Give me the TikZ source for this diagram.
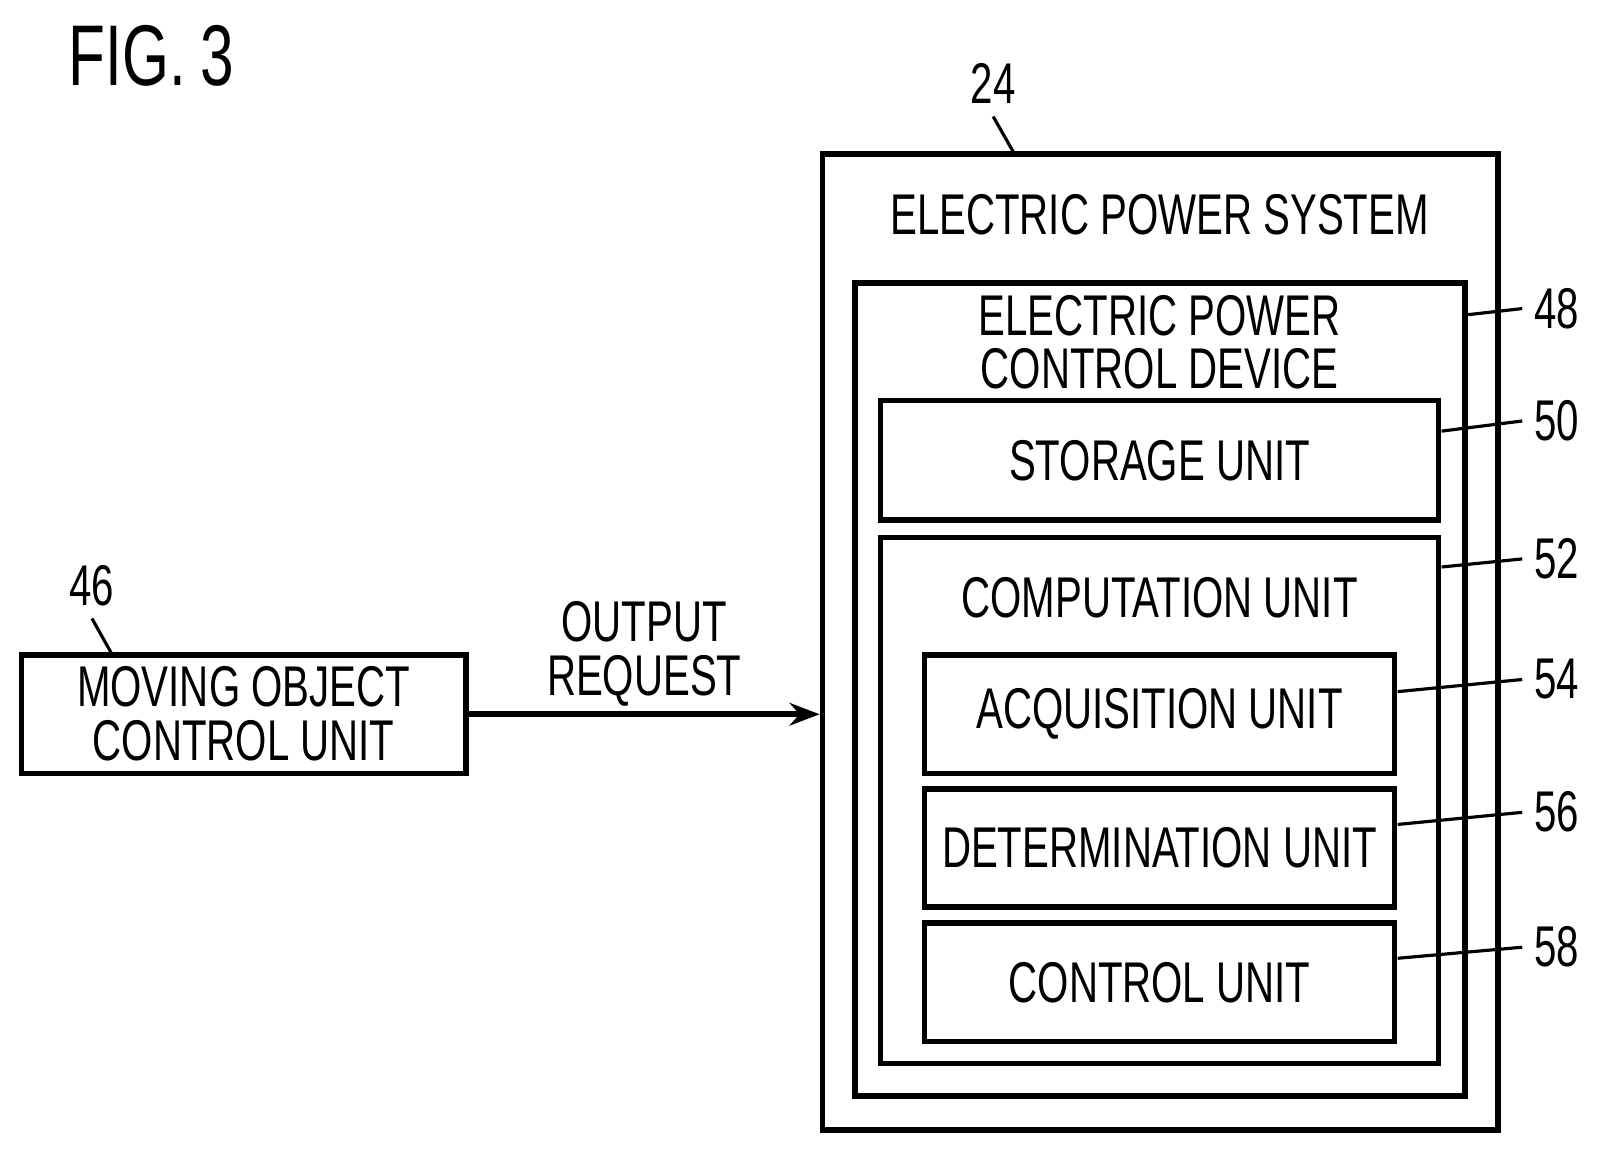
\documentclass[tikz,border=0pt]{standalone}
\usepackage{fontspec}
\setmainfont{Liberation Sans}[FakeStretch=0.7]
\usetikzlibrary{arrows.meta,positioning}

\begin{document}
\begin{tikzpicture}[
    box/.style={draw, line width=1.6pt, minimum height=1.16cm, align=center},
    txt/.style={font=\fontsize{16}{15}\selectfont, align=center},
    ref/.style={font=\fontsize{16}{15}\selectfont},
    lead/.style={line width=0.9pt},
    arrow/.style={-{Stealth[length=3mm]}, line width=1.6pt}
]
\useasboundingbox (0,0) rectangle (16.03,-11.52);
\begin{scope}[scale=1.0216, transform shape]
\node[font=\fontsize{24}{24}\selectfont] (fig) at (1.48,-0.55) {FIG.\,3};

% outer system and nested units
\node[box, minimum width=6.61cm, minimum height=9.55cm] (sys) at (11.355,-6.285) {};
\node[txt] (systxt) at (11.35,-2.1) {ELECTRIC POWER SYSTEM};
\node[box, minimum width=5.97cm, minimum height=7.96cm] (pcd) at (11.355,-6.75) {};
\node[txt] (pcdtxt) at (11.35,-3.35) {ELECTRIC POWER\\CONTROL DEVICE};
\node[box, minimum width=5.46cm, minimum height=1.17cm, txt] (stor) at (11.35,-4.505) {STORAGE UNIT};
\node[box, minimum width=5.46cm, minimum height=5.15cm] (comp) at (11.35,-7.835) {};
\node[txt] (comptxt) at (11.35,-5.85) {COMPUTATION UNIT};
\node[box, minimum width=4.6cm, txt] (acq) at (11.35,-6.99) {ACQUISITION UNIT};
\node[box, minimum width=4.6cm, txt] (det) at (11.35,-8.30) {DETERMINATION UNIT};
\node[box, minimum width=4.6cm, txt] (ctrl) at (11.35,-9.615) {CONTROL UNIT};

% moving object side
\node[box, minimum width=4.35cm, txt] (moc) at (2.385,-6.99) {MOVING OBJECT\\CONTROL UNIT};
\draw[arrow] (moc.east) -- node[txt, above, yshift=-2pt] {OUTPUT\\REQUEST} (moc.east -| sys.west);

% reference numerals
\node[ref] (n24) at (9.72,-0.82) {24};
\node[ref] (n46) at (0.9,-5.73) {46};
\node[ref] (n48) at (15.24,-3.02) {48};
\node[ref] (n50) at (15.24,-4.12) {50};
\node[ref] (n52) at (15.24,-5.47) {52};
\node[ref] (n54) at (15.24,-6.65) {54};
\node[ref] (n56) at (15.24,-7.95) {56};
\node[ref] (n58) at (15.24,-9.27) {58};
\coordinate (c24) at (9.93,-1.51);
\coordinate (c46) at (1.1,-6.41);
\draw[lead] (n24.south) -- (c24);
\draw[lead] (n46.south) -- (c46);
\draw[lead] (pcd.east |- 0,-3.08) -- (n48.west);
\draw[lead] (stor.east |- 0,-4.22) -- (n50.west);
\draw[lead] (comp.east |- 0,-5.55) -- (n52.west);
\draw[lead] (acq.east |- 0,-6.77) -- (n54.west);
\draw[lead] (det.east |- 0,-8.07) -- (n56.west);
\draw[lead] (ctrl.east |- 0,-9.38) -- (n58.west);
\end{scope}
\end{tikzpicture}
\end{document}
